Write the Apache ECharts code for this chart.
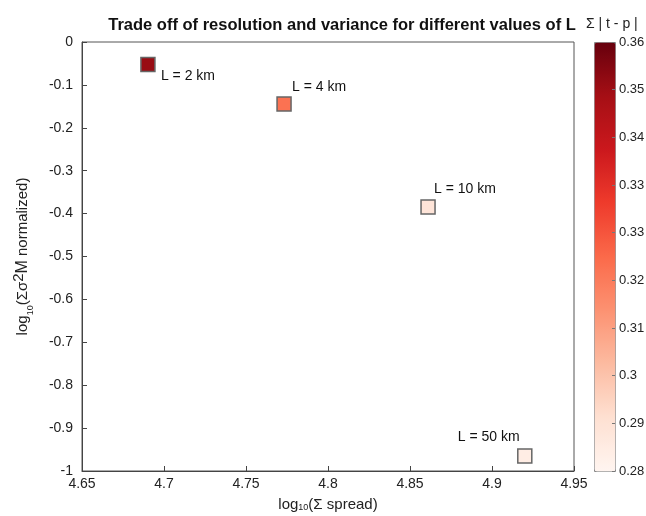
<!DOCTYPE html>
<html>
<head>
<meta charset="utf-8">
<script src="https://cdn.jsdelivr.net/npm/echarts@6/dist/echarts.min.js"></script>
<style>
  html, body { margin: 0; padding: 0; background: #fff; }
  #chart { width: 646px; height: 516px; }
</style>
</head>
<body>
<div id="chart"></div>
<script>
// Point data: one entry per patch length L
const pointLabels = ['L = 2 km', 'L = 4 km', 'L = 10 km', 'L = 50 km'];
const logSpread = [4.6902, 4.7732, 4.8610, 4.9200];
const logVarNorm = [-0.0524, -0.1445, -0.3846, -0.9650];
const absErrorSum = [0.352, 0.318, 0.288, 0.284];

// Colour bar range and its tick labels (bottom to top)
const cbMin = 0.28;
const cbMax = 0.36;
const cbTickLabels = ['0.28', '0.29', '0.3', '0.31', '0.32', '0.33', '0.33', '0.34', '0.35', '0.36'];

// Label placement relative to each marker centre
const labelOffsets = [[13, 12], [8, -17], [6, -18], [-67, -19]];

const reds = ['#fff5f0', '#fee0d2', '#fcbba1', '#fc9272', '#fb6a4a', '#ef3b2c', '#cb181d', '#a50f15', '#67000d'];
const FONT = '"Liberation Sans", Arial, Helvetica, sans-serif';

const chart = echarts.init(document.getElementById('chart'), null, { renderer: 'canvas' });

const scatterData = logSpread.map((x, i) => ({
  value: [x, logVarNorm[i], absErrorSum[i]],
  label: {
    show: true,
    formatter: pointLabels[i],
    position: 'inside',
    align: 'left',
    verticalAlign: 'middle',
    offset: labelOffsets[i],
    color: '#111',
    fontSize: 14,
    fontFamily: FONT
  }
}));

chart.setOption({
  animation: false,
  backgroundColor: '#fff',
  textStyle: { fontFamily: FONT },
  grid: [
    { left: 82, top: 42, width: 492, height: 429, containLabel: false, outerBoundsMode: 'none',
      show: true, borderColor: '#555', borderWidth: 1, backgroundColor: '#fff' },
    { left: 594, top: 42, width: 21, height: 429, containLabel: false, outerBoundsMode: 'none', show: false }
  ],
  xAxis: [
    {
      gridIndex: 0, type: 'value', min: 4.65, max: 4.95, interval: 0.05,
      axisLine: { show: true, onZero: false, lineStyle: { color: '#444' } },
      axisTick: { show: true, inside: true, length: 5, lineStyle: { color: '#444' } },
      axisLabel: { color: '#222', fontSize: 14, margin: 6, fontFamily: FONT },
      splitLine: { show: false },
      name: 'log{s|10}(Σ spread)',
      nameLocation: 'middle', nameGap: 26,
      nameTextStyle: {
        color: '#222', fontSize: 15, fontFamily: FONT,
        rich: { s: { fontSize: 9, verticalAlign: 'bottom', padding: [6, 0, 0, 0], fontFamily: FONT, color: '#222' } }
      }
    },
    { gridIndex: 1, type: 'value', min: 0, max: 1, show: false }
  ],
  yAxis: [
    {
      gridIndex: 0, type: 'value', min: -1, max: 0, interval: 0.1,
      axisLine: { show: true, onZero: false, lineStyle: { color: '#444' } },
      axisTick: { show: true, inside: true, length: 5, lineStyle: { color: '#444' } },
      axisLabel: { color: '#222', fontSize: 14, margin: 9, fontFamily: FONT },
      splitLine: { show: false },
      name: 'log{s|10}(Σσ{p|2}{m|M} normalized)',
      nameLocation: 'middle', nameGap: 47, nameRotate: 90,
      nameTextStyle: {
        color: '#222', fontSize: 15, fontFamily: FONT,
        rich: {
          s: { fontSize: 9, verticalAlign: 'bottom', padding: [6, 0, 0, 0], fontFamily: FONT, color: '#222' },
          p: { fontSize: 15, verticalAlign: 'top', padding: [0, 0, 9, 0], fontFamily: FONT, color: '#222' },
          m: { fontSize: 16, fontFamily: FONT, color: '#222' }
        }
      }
    },
    {
      gridIndex: 1, type: 'value', min: 0, max: 9, interval: 1, position: 'right', z: 10,
      axisLine: { show: false, onZero: false },
      axisTick: { show: true, inside: true, length: 3, lineStyle: { color: '#777' } },
      axisLabel: { color: '#222', fontSize: 13, margin: 4, fontFamily: FONT, formatter: v => cbTickLabels[Math.round(v)] },
      splitLine: { show: false }
    }
  ],
  title: {
    text: 'Trade off of resolution and variance for different values of L',
    left: 337, top: 12, textAlign: 'center',
    textStyle: { fontSize: 16.5, fontWeight: 'bold', color: '#111', fontFamily: FONT }
  },
  graphic: [
    {
      type: 'text', left: 586, top: 17,
      style: { text: 'Σ | t - p |', fontSize: 14, fill: '#222', fontFamily: FONT }
    }
  ],
  visualMap: {
    type: 'continuous',
    seriesIndex: 0,
    dimension: 2,
    min: cbMin, max: cbMax,
    left: 594, top: 42,
    itemWidth: 21, itemHeight: 429,
    padding: 0,
    text: ['', ''],
    showLabel: false,
    calculable: false,
    hoverLink: false,
    z: 2,
    borderColor: '#888', borderWidth: 1,
    inRange: { color: reds }
  },
  series: [
    {
      type: 'scatter',
      xAxisIndex: 0, yAxisIndex: 0,
      symbol: 'rect',
      symbolSize: 14,
      itemStyle: { borderColor: '#666', borderWidth: 1.5, opacity: 1 },
      data: scatterData
    }
  ]
});
</script>
</body>
</html>
